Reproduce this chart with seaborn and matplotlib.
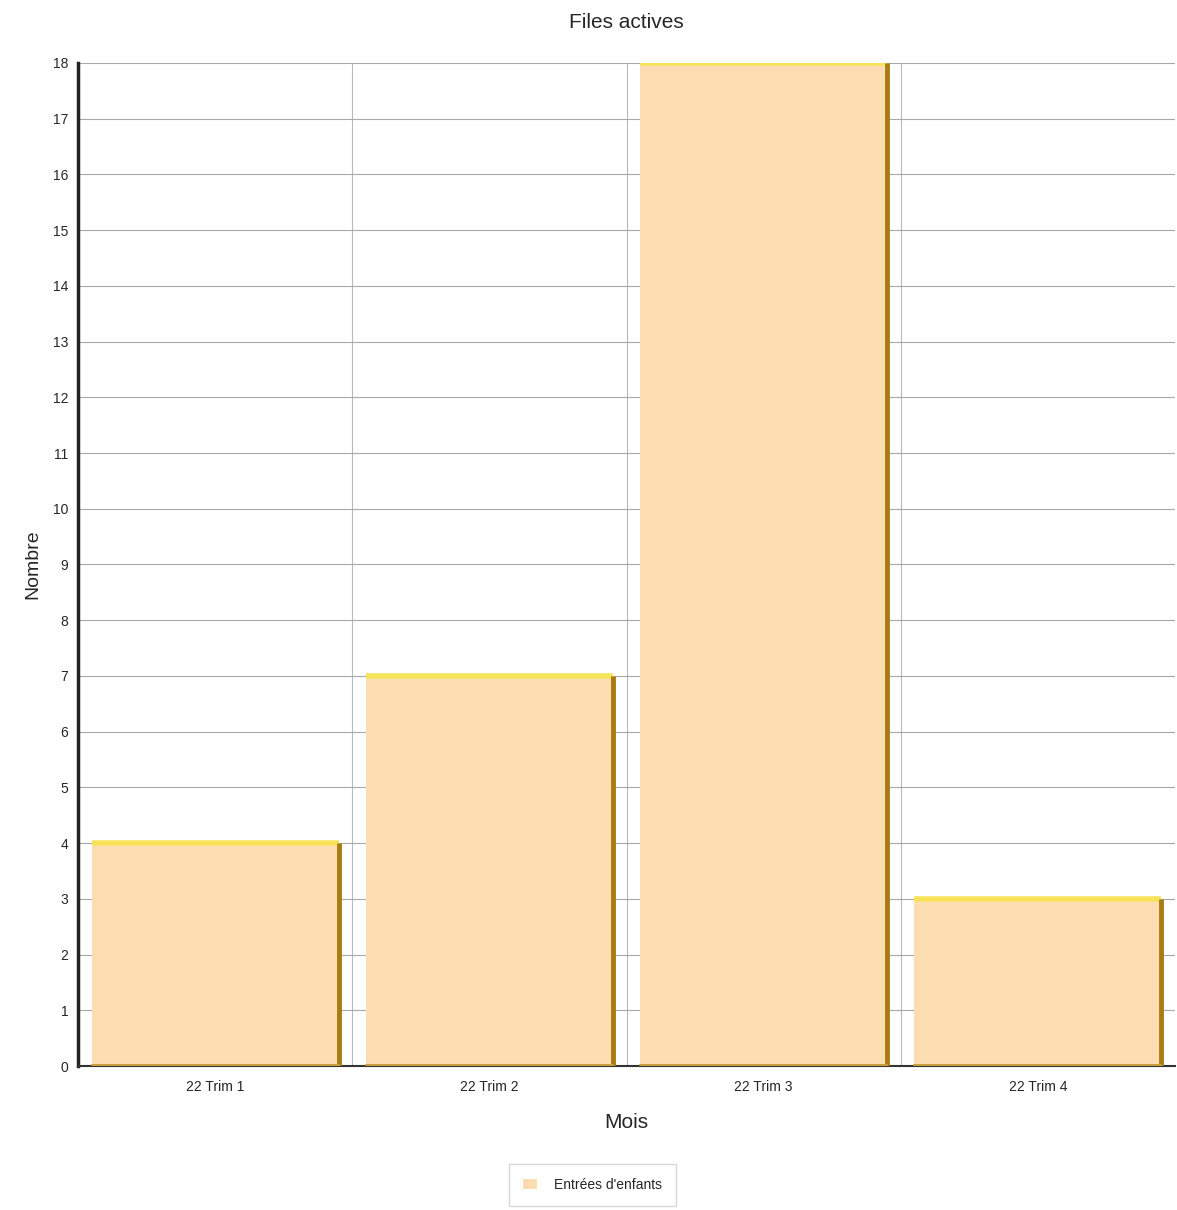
import pandas as pd
import seaborn as sns
import matplotlib.pyplot as plt
from matplotlib.ticker import MultipleLocator, FixedLocator

# data
trimestres = ["22 Trim 1", "22 Trim 2", "22 Trim 3", "22 Trim 4"]
entrees = [4, 7, 18, 3]

df = pd.DataFrame({"Mois": trimestres, "Nombre": entrees})

sns.set_style("white")
plt.rcParams["font.family"] = ["Liberation Sans", "DejaVu Sans"]

fig = plt.figure(figsize=(11.77, 12.10), dpi=100)
ax = fig.add_axes([0.0663, 0.119, 0.932, 0.829])

sns.barplot(data=df, x="Mois", y="Nombre", color="#FCDDB2", width=0.9,
            saturation=1, label="Entrées d'enfants", ax=ax, zorder=2)

# yellow top edge + dark gold right edge, taken from the drawn bars
for p in ax.patches:
    x0, y0 = p.get_x(), p.get_y()
    w, h = p.get_width(), p.get_height()
    p.set_edgecolor("none")
    ax.plot([x0, x0 + w], [y0 + h, y0 + h], color="#F7E35A", lw=4,
            solid_capstyle="butt", zorder=3)
    ax.plot([x0 + w, x0 + w], [y0, y0 + h], color="#A87C12", lw=3.5,
            solid_capstyle="butt", zorder=3)
    ax.plot([x0, x0 + w], [0.02, 0.02], color="#C9A040", lw=1.5, zorder=3)

ax.set_xlim(-0.5, 3.5)
ax.set_ylim(0, 18)
ax.yaxis.set_major_locator(MultipleLocator(1))
ax.xaxis.set_minor_locator(FixedLocator([0.5, 1.5, 2.5]))
ax.grid(axis="y", which="major", color="#A8A8A8", lw=0.8, zorder=0)
ax.grid(axis="x", which="minor", color="#B8B8C4", lw=0.8, zorder=0)
ax.set_axisbelow(True)

for s in ["top", "right"]:
    ax.spines[s].set_visible(False)
ax.spines["left"].set_linewidth(2.5)
ax.spines["left"].set_color("#222222")
ax.spines["bottom"].set_linewidth(1.5)
ax.spines["bottom"].set_color("#333333")

ax.tick_params(axis="y", which="major", length=4, width=1, labelsize=10,
               direction="out", pad=3)
ax.tick_params(axis="x", which="major", length=0, labelsize=10, pad=10)
ax.tick_params(axis="x", which="minor", length=6, width=1, direction="out")

ax.set_title("Files actives", fontsize=15, pad=25)
ax.set_xlabel("Mois", fontsize=15, labelpad=14)
ax.set_ylabel("Nombre", fontsize=14, labelpad=8)

leg = ax.legend(loc="upper center", bbox_to_anchor=(0.469, -0.0975),
                fontsize=10, frameon=True, fancybox=False,
                edgecolor="#CCCCCC", borderpad=1.0, handlelength=1.0,
                handletextpad=1.2, borderaxespad=0)
leg.get_frame().set_linewidth(1.0)

fig.savefig("out.png", dpi=100)
